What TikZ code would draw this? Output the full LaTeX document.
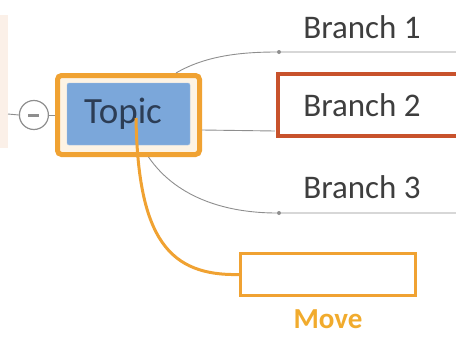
\documentclass[tikz,border=0pt]{standalone}
\usepackage{fontspec}
\setmainfont{Carlito}
\usetikzlibrary{positioning}

\definecolor{topicblue}{HTML}{7BA7DA}
\definecolor{topicfill}{HTML}{FDF3E4}
\definecolor{topictext}{HTML}{2C3D55}
\definecolor{mvorange}{HTML}{F0A232}
\definecolor{selred}{HTML}{C8522C}
\definecolor{linegray}{HTML}{8E8E8E}
\definecolor{textgray}{HTML}{3E3E3E}
\definecolor{peach}{HTML}{FBF0E8}

\tikzset{
  topicsel/.style={draw=mvorange, line width=5pt, fill=topicfill, rounded corners=4pt,
    minimum width=142pt, minimum height=79pt},
  topicbox/.style={fill=topicblue, draw=topicblue!70!white, rounded corners=2pt,
    minimum width=123pt, minimum height=62pt},
  topictxt/.style={text=topictext, font=\fontsize{37}{40}\selectfont},
  branchtxt/.style={text=textgray, font=\fontsize{33}{36}\selectfont},
  selbox/.style={draw=selred, line width=4pt, minimum width=190pt, minimum height=62pt},
  movebox/.style={draw=mvorange, line width=3pt, fill=white, minimum width=175pt, minimum height=42pt},
  branchline/.style={draw=linegray, line width=0.9pt},
  knot/.style={circle, fill=linegray, inner sep=0pt, minimum size=4pt},
}

\begin{document}
\begin{tikzpicture}[x=1pt, y=-1pt]
    \useasboundingbox (0,0) rectangle (456,338);
    \fill[peach] (0,15) rectangle (8,148);
    \coordinate (edge) at (8,114);

    % topic with its selection frame
    \node[topicsel]            (topicsel) at (128.5,115) {};
    \node[topicbox]            (topic)    at (128.5,114) {};
    \node[topictxt]            (topiclbl) at (123,114) {Topic};
    \node[circle, draw=linegray, fill=white, line width=1.2pt, minimum size=29pt,
          left=6pt of topicsel] (collapse) {};
    \draw[linegray, line width=3pt] ([xshift=-5.5pt]collapse.center) -- ([xshift=5.5pt]collapse.center);

    % branches
    \node[knot] (k1) at (279,52) {};
    \node[knot] (k3) at (279,213) {};
    \coordinate (e1) at (456,52);
    \coordinate (e3) at (456,213);
    \coordinate (in2) at (275,131);
    \node[branchtxt] (b1) at (362,27)  {Branch 1};
    \node[selbox]    (b2box) at (373,105) {};
    \node[branchtxt] (b2) at (362,105) {Branch 2};
    \node[branchtxt] (b3) at (362,187) {Branch 3};

    \draw[branchline] (edge) -- (collapse.west);
    \draw[branchline] (collapse.east) -- (topicsel.west);
    \draw[branchline] ([xshift=-26pt]topicsel.north east) .. controls (205,56) and (240,52) .. (k1) -- (e1);
    \draw[branchline] ([yshift=-15pt]topicsel.east) -- (in2);
    \draw[branchline] ([xshift=20pt]topicsel.south) .. controls (178,200) and (230,213) .. (k3) -- (e3);

    % move target
    \node[movebox] (move) at (328,274.5) {};
    \node[text=mvorange!90!yellow, font=\fontsize{29}{32}\selectfont\bfseries, below=9pt of move] (movetxt) {Move};
    \draw[mvorange, line width=3pt] (136,118) .. controls (138,240) and (170,276) .. (move.west);
\end{tikzpicture}
\end{document}
